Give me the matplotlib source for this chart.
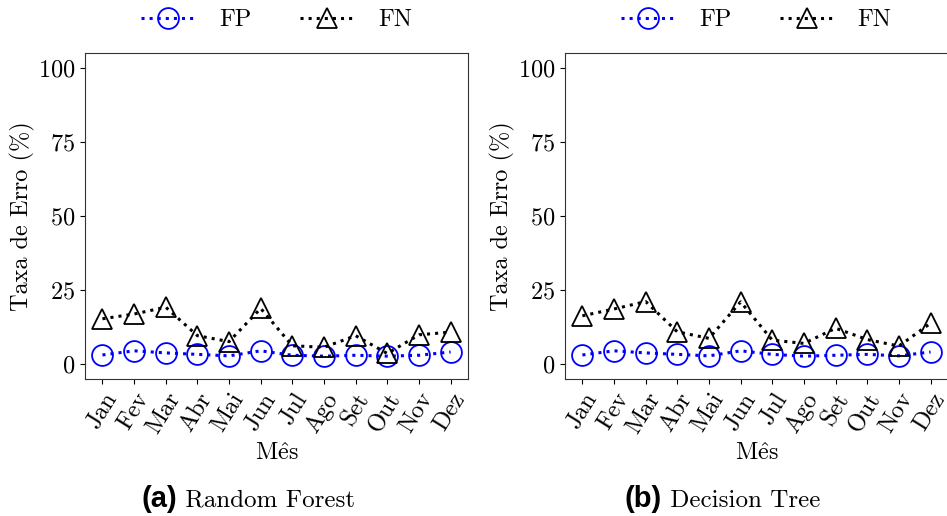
import numpy as np
import matplotlib
matplotlib.use("Agg")
import matplotlib.pyplot as plt

plt.rcParams['font.family'] = ['cmr10', 'DejaVu Serif']
plt.rcParams['mathtext.fontset'] = 'cm'
plt.rcParams['axes.formatter.use_mathtext'] = True
plt.rcParams['font.size'] = 17.5

# Data
months = ["Jan", "Fev", "Mar", "Abr", "Mai", "Jun",
          "Jul", "Ago", "Set", "Out", "Nov", "Dez"]

rf_fp = [3.1, 4.5, 3.8, 3.3, 2.8, 4.5, 3.0, 2.7, 3.0, 2.7, 3.0, 4.1]
rf_fn = [15.3, 16.9, 19.2, 9.6, 7.6, 18.8, 6.2, 5.7, 9.6, 3.6, 9.9, 10.8]

dt_fp = [3.1, 4.5, 3.8, 3.3, 2.8, 4.5, 3.3, 2.7, 3.0, 3.3, 2.8, 4.1]
dt_fn = [16.3, 18.6, 21.1, 10.9, 8.7, 21.0, 8.1, 7.0, 12.1, 8.3, 6.1, 13.8]

panels = [("(a)", "Random Forest", rf_fp, rf_fn),
          ("(b)", "Decision Tree", dt_fp, dt_fn)]

fig = plt.figure(figsize=(9.47, 5.16), dpi=100)
lefts = [0.0898, 0.5966]
cap_x = [0.187, 0.699]

for i, (tag, name, fp, fn) in enumerate(panels):
    ax = fig.add_axes([lefts[i], 0.2655, 0.4044, 0.6324])
    x = np.arange(len(months))
    ax.plot(x, fp, linestyle=':', color='#0000ff', linewidth=2.2,
            marker='o', markersize=15, markerfacecolor='none',
            markeredgecolor='#0000ff', markeredgewidth=1.3, label='FP')
    ax.plot(x, fn, linestyle=':', color='black', linewidth=2.2,
            marker='^', markersize=15, markerfacecolor='none',
            markeredgecolor='black', markeredgewidth=1.3, label='FN')
    ax.set_xlim(-0.55, 11.55)
    ax.set_ylim(-5, 105)
    ax.set_yticks([0, 25, 50, 75, 100])
    ax.set_xticks(x)
    ax.set_xticklabels(months, rotation=58, ha='right', rotation_mode='anchor')
    ax.set_xlabel(r'M$\hat{\mathrm{e}}$s', labelpad=4)
    ax.set_ylabel('Taxa de Erro (%)', labelpad=2)
    for s in ax.spines.values():
        s.set_color('#333333')
    ax.legend(loc='center', bbox_to_anchor=(0.5, 1.10), ncol=2,
              frameon=False, handlelength=2.2, columnspacing=2.0,
              handletextpad=1.0)

    fig.text(cap_x[i], 0.018, tag, family='Liberation Sans',
             weight='bold', fontsize=21, ha='right', va='baseline')
    fig.text(cap_x[i], 0.018, ' ' + name, fontsize=18, ha='left',
             va='baseline')

plt.savefig("out.png", dpi=100)
